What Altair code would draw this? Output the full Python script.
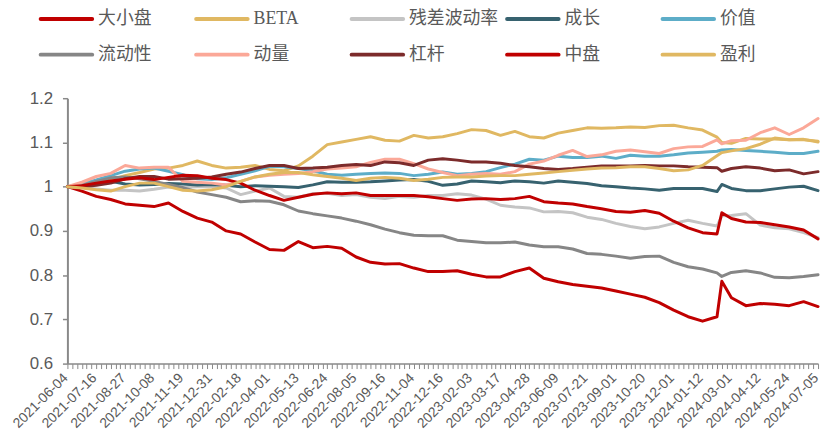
import altair as alt
import pandas as pd

# x-axis tick labels (every 6th trading week)
tick_labels = ["2021-06-04", "2021-07-16", "2021-08-27", "2021-10-08", "2021-11-19", "2021-12-31",
               "2022-02-18", "2022-04-01", "2022-05-13", "2022-06-24", "2022-08-05", "2022-09-16",
               "2022-11-04", "2022-12-16", "2023-02-03", "2023-03-17", "2023-04-28", "2023-06-09",
               "2023-07-21", "2023-09-01", "2023-10-20", "2023-12-01", "2024-01-12", "2024-03-01",
               "2024-04-12", "2024-05-24", "2024-07-05"]

# trading-week index of each observation
weeks = list(range(0, 136, 3)) + [136] + list(range(138, 157, 3))

names = ["大小盘", "BETA", "残差波动率", "成长", "价值", "流动性", "动量", "杠杆", "中盘", "盈利"]
colors = ["#C00000", "#E0B862", "#C4C4C4", "#37626F", "#5DADC8", "#868686", "#FBA898", "#7C2B2B", "#C00000", "#E0B862"]

size_f = [1.000, 0.990, 0.978, 0.971, 0.961, 0.958, 0.955, 0.963, 0.944, 0.929,
          0.920, 0.900, 0.893, 0.875, 0.858, 0.856, 0.876, 0.862, 0.865, 0.861,
          0.841, 0.829, 0.825, 0.826, 0.816, 0.808, 0.808, 0.810, 0.802, 0.796,
          0.796, 0.808, 0.816, 0.793, 0.785, 0.779, 0.775, 0.771, 0.764, 0.757,
          0.750, 0.738, 0.721, 0.706, 0.696, 0.706, 0.786, 0.749, 0.731, 0.736,
          0.734, 0.731, 0.740, 0.729]
beta = [1.000, 1.006, 1.010, 1.015, 1.025, 1.032, 1.040, 1.042, 1.048, 1.058,
        1.048, 1.042, 1.044, 1.048, 1.039, 1.036, 1.047, 1.069, 1.095, 1.101,
        1.107, 1.113, 1.105, 1.103, 1.116, 1.110, 1.113, 1.120, 1.129, 1.127,
        1.116, 1.125, 1.113, 1.110, 1.121, 1.127, 1.133, 1.132, 1.133, 1.135,
        1.134, 1.138, 1.139, 1.133, 1.128, 1.112, 1.100, 1.098, 1.109, 1.108,
        1.108, 1.106, 1.106, 1.103]
resvol = [1.000, 0.998, 0.995, 0.992, 0.992, 0.990, 0.994, 0.999, 0.998, 1.000,
          1.000, 0.997, 0.982, 0.990, 0.997, 0.978, 0.976, 0.984, 0.985, 0.980,
          0.982, 0.976, 0.973, 0.978, 0.976, 0.980, 0.980, 0.984, 0.981, 0.972,
          0.958, 0.954, 0.952, 0.943, 0.944, 0.941, 0.931, 0.926, 0.917, 0.910,
          0.905, 0.909, 0.917, 0.924, 0.917, 0.911, 0.934, 0.935, 0.939, 0.913,
          0.907, 0.905, 0.896, 0.885]
growth = [1.000, 1.003, 1.008, 1.012, 1.006, 1.004, 1.005, 1.007, 1.006, 1.004,
          1.005, 1.003, 1.000, 1.002, 1.001, 1.000, 0.998, 1.004, 1.011, 1.010,
          1.010, 1.011, 1.013, 1.015, 1.016, 1.012, 1.003, 1.006, 1.013, 1.011,
          1.009, 1.013, 1.011, 1.008, 1.013, 1.010, 1.007, 1.002, 1.000, 0.997,
          0.995, 0.992, 0.996, 0.996, 0.996, 0.989, 1.005, 0.996, 0.991, 0.991,
          0.995, 0.999, 1.001, 0.991]
value_f = [1.000, 1.006, 1.015, 1.025, 1.035, 1.040, 1.042, 1.035, 1.027, 1.018,
           1.016, 1.020, 1.028, 1.036, 1.046, 1.045, 1.041, 1.036, 1.028, 1.026,
           1.028, 1.030, 1.031, 1.030, 1.025, 1.028, 1.033, 1.028, 1.030, 1.034,
           1.043, 1.051, 1.062, 1.060, 1.069, 1.066, 1.066, 1.069, 1.064, 1.071,
           1.069, 1.069, 1.072, 1.076, 1.078, 1.080, 1.083, 1.084, 1.082, 1.080,
           1.078, 1.075, 1.075, 1.080]
liquidity = [1.000, 1.003, 1.012, 1.020, 1.022, 1.018, 1.012, 1.005, 0.998, 0.988,
             0.982, 0.976, 0.966, 0.968, 0.967, 0.959, 0.945, 0.939, 0.934, 0.929,
             0.922, 0.914, 0.904, 0.896, 0.890, 0.889, 0.889, 0.879, 0.876, 0.873,
             0.873, 0.875, 0.868, 0.864, 0.864, 0.859, 0.849, 0.847, 0.843, 0.838,
             0.842, 0.843, 0.829, 0.819, 0.814, 0.805, 0.797, 0.806, 0.810, 0.805,
             0.795, 0.794, 0.797, 0.801]
momentum = [1.000, 1.010, 1.023, 1.030, 1.048, 1.042, 1.044, 1.044, 1.012, 1.010,
            1.008, 1.004, 1.012, 1.022, 1.026, 1.028, 1.030, 1.034, 1.040, 1.042,
            1.045, 1.055, 1.062, 1.062, 1.052, 1.040, 1.032, 1.025, 1.028, 1.030,
            1.028, 1.034, 1.051, 1.058, 1.071, 1.082, 1.068, 1.072, 1.080, 1.083,
            1.079, 1.075, 1.086, 1.090, 1.091, 1.106, 1.097, 1.104, 1.105, 1.122,
            1.133, 1.118, 1.133, 1.154]
leverage = [1.000, 1.000, 1.003, 1.008, 1.018, 1.023, 1.023, 1.017, 1.018, 1.019,
            1.022, 1.028, 1.033, 1.041, 1.048, 1.048, 1.041, 1.042, 1.044, 1.048,
            1.050, 1.048, 1.056, 1.054, 1.048, 1.060, 1.063, 1.060, 1.056, 1.056,
            1.053, 1.048, 1.045, 1.041, 1.039, 1.041, 1.044, 1.047, 1.047, 1.047,
            1.048, 1.047, 1.047, 1.045, 1.044, 1.043, 1.035, 1.041, 1.045, 1.042,
            1.036, 1.038, 1.029, 1.034]
midcap = [1.000, 1.002, 1.008, 1.013, 1.017, 1.020, 1.016, 1.021, 1.026, 1.025,
          1.019, 1.016, 1.008, 0.992, 0.980, 0.969, 0.976, 0.983, 0.986, 0.984,
          0.986, 0.980, 0.980, 0.980, 0.980, 0.977, 0.973, 0.969, 0.972, 0.973,
          0.971, 0.973, 0.978, 0.966, 0.963, 0.961, 0.955, 0.950, 0.944, 0.942,
          0.946, 0.940, 0.922, 0.907, 0.896, 0.893, 0.941, 0.928, 0.920, 0.919,
          0.914, 0.909, 0.902, 0.882]
earnings = [1.000, 0.997, 0.993, 0.990, 1.000, 1.008, 1.008, 1.000, 0.992, 0.990,
            0.993, 1.000, 1.012, 1.022, 1.028, 1.032, 1.032, 1.027, 1.023, 1.019,
            1.014, 1.019, 1.021, 1.019, 1.014, 1.017, 1.021, 1.022, 1.022, 1.024,
            1.025, 1.025, 1.028, 1.031, 1.034, 1.037, 1.040, 1.042, 1.043, 1.045,
            1.045, 1.041, 1.036, 1.038, 1.048, 1.070, 1.077, 1.081, 1.086, 1.096,
            1.110, 1.106, 1.107, 1.101]

series = [size_f, beta, resvol, growth, value_f, liquidity, momentum, leverage, midcap, earnings]

rows = []
for n, vals in zip(names, series):
    for w, v in zip(weeks, vals):
        rows.append({"week": w, "value": v, "factor": n})
df = pd.DataFrame(rows)

# legend grid: 5 columns x 2 rows, filled row by row
legend_df = pd.DataFrame({"factor": names,
                          "col": [i % 5 for i in range(len(names))],
                          "row": [i // 5 for i in range(len(names))]})

label_expr = ("datum.value % 6 == 0 ? [" + ",".join("'" + t + "'" for t in tick_labels)
              + "][floor(datum.value / 6)] : ''")

latin_font = "Liberation Sans, Arial, sans-serif"
legend_font = "Liberation Serif, Noto Sans CJK SC, serif"
text_color = "#595959"
axis_color = "#898989"

color_scale = alt.Scale(domain=names, range=colors)

lines = alt.Chart(df).mark_line(strokeWidth=3, strokeCap="round", strokeJoin="round").encode(
    x=alt.X("week:Q",
            scale=alt.Scale(domain=[0, 156], nice=False, zero=False),
            axis=alt.Axis(values=list(range(157)), labelExpr=label_expr, labelAngle=-45,
                          labelOverlap=False, labelFlush=False, labelBound=False, grid=False,
                          title=None, tickSize=5, tickColor=axis_color, domainColor=axis_color,
                          domainWidth=1.5, labelFont=latin_font, labelFontSize=14,
                          labelColor=text_color, labelPadding=2, labelOffset=-7)),
    y=alt.Y("value:Q",
            scale=alt.Scale(domain=[0.6, 1.2], nice=False, zero=False),
            axis=alt.Axis(values=[0.6, 0.7, 0.8, 0.9, 1.0, 1.1, 1.2], format=".1~f",
                          grid=False, title=None, tickSize=5, tickColor=axis_color,
                          domainColor=axis_color, domainWidth=2, tickWidth=1.5,
                          labelFont=latin_font, labelFontSize=17, labelColor=text_color,
                          labelPadding=10)),
    color=alt.Color("factor:N", scale=color_scale, legend=None),
)

leg_x = alt.X("col:Q", scale=alt.Scale(domain=[0, 4], range=[-27, 601]), axis=None)
leg_y = alt.Y("row:Q", scale=alt.Scale(domain=[0, 1], range=[-80, -44]), axis=None)

leg_symbols = alt.Chart(legend_df).mark_rule(strokeWidth=4, strokeCap="round", x2Offset=52).encode(
    x=leg_x, x2=alt.X2("col:Q"), y=leg_y,
    color=alt.Color("factor:N", scale=color_scale, legend=None),
)

leg_labels = alt.Chart(legend_df).mark_text(
    align="left", baseline="middle", dx=58, font=legend_font, fontSize=18, color=text_color
).encode(x=leg_x, y=leg_y, text="factor:N")

chart = alt.layer(lines, leg_symbols, leg_labels).resolve_scale(
    x="independent", y="independent"
).properties(
    width=758, height=268,
    autosize=alt.AutoSizeParams(type="none"),
    padding={"left": 60, "top": 89, "right": 4, "bottom": 70},
).configure_view(stroke=None)

chart.save("out.html", embed_options={"renderer": "svg", "actions": False})
